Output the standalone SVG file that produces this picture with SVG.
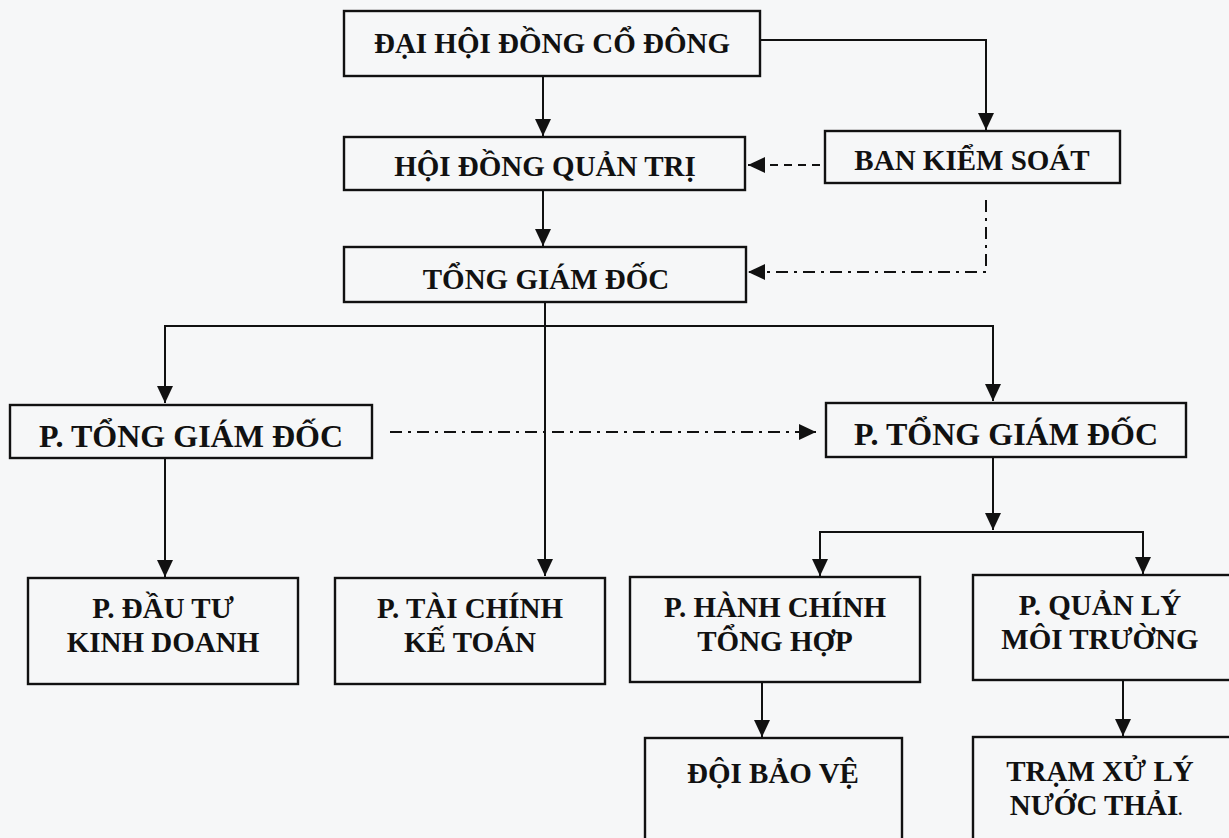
<svg xmlns="http://www.w3.org/2000/svg" width="1229" height="838" viewBox="0 0 1229 838">
<style>
.box{fill:none;stroke:#111;stroke-width:2.4}
.t{font-family:"Liberation Serif","Times New Roman",serif;font-weight:bold;font-size:29px;fill:#111;text-anchor:middle}
.tb{font-size:32px}
.c{fill:none;stroke:#111;stroke-width:2}
.dash{stroke-dasharray:8 6}
.dd{stroke-dasharray:12 6 3 6}
</style>
<defs>
<marker id="ah" markerUnits="userSpaceOnUse" markerWidth="18" markerHeight="16" refX="17" refY="8" orient="auto">
<path d="M0,0 L17,8 L0,16 Z" fill="#111"/>
</marker>
</defs>
<rect x="0" y="0" width="1229" height="838" fill="#f6f7f8"/>
<g id="connectors">
<path class="c" d="M543,76 V136" marker-end="url(#ah)"/>
<path class="c" d="M760,40 H986 V130" marker-end="url(#ah)"/>
<path class="c dash" d="M820,165 H748" marker-end="url(#ah)"/>
<path class="c dd" d="M986,200 V272 H748" marker-end="url(#ah)"/>
<path class="c" d="M543,190 V246" marker-end="url(#ah)"/>
<path class="c" d="M545,302 V576" marker-end="url(#ah)"/>
<path class="c" d="M165,403 V326 H993 V401" marker-end="url(#ah)"/>
<path class="c" d="M165,326 V403" marker-end="url(#ah)"/>
<path class="c dd" d="M390,432 H816" marker-end="url(#ah)"/>
<path class="c" d="M165,458 V577" marker-end="url(#ah)"/>
<path class="c" d="M993,457 V530" marker-end="url(#ah)"/>
<path class="c" d="M820,576 V532 H1143 V574" marker-end="url(#ah)"/>
<path class="c" d="M820,532 V576" marker-end="url(#ah)"/>
<path class="c" d="M762,682 V737" marker-end="url(#ah)"/>
<path class="c" d="M1123,680 V736" marker-end="url(#ah)"/>
</g>
<g id="n-dhdcd"><rect class="box" x="344" y="11" width="416" height="65"/><text class="t" x="552" y="53">ĐẠI HỘI ĐỒNG CỔ ĐÔNG</text></g>
<g id="n-hdqt"><rect class="box" x="344" y="137" width="401" height="53"/><text class="t" x="545" y="176">HỘI ĐỒNG QUẢN TRỊ</text></g>
<g id="n-bks"><rect class="box" x="825" y="131" width="295" height="52"/><text class="t" x="972" y="170">BAN KIỂM SOÁT</text></g>
<g id="n-tgd"><rect class="box" x="344" y="247" width="402" height="55"/><text class="t" x="546" y="289">TỔNG GIÁM ĐỐC</text></g>
<g id="n-ptgd1"><rect class="box" x="10" y="405" width="362" height="53"/><text class="t tb" x="191" y="447">P. TỔNG GIÁM ĐỐC</text></g>
<g id="n-ptgd2"><rect class="box" x="826" y="403" width="360" height="54"/><text class="t tb" x="1006" y="445">P. TỔNG GIÁM ĐỐC</text></g>
<g id="n-dtkd"><rect class="box" x="28" y="578" width="270" height="106"/><text class="t" x="163" y="618">P. ĐẦU TƯ</text><text class="t" x="163" y="652">KINH DOANH</text></g>
<g id="n-tckt"><rect class="box" x="335" y="578" width="270" height="106"/><text class="t" x="470" y="618">P. TÀI CHÍNH</text><text class="t" x="470" y="652">KẾ TOÁN</text></g>
<g id="n-hcth"><rect class="box" x="630" y="577" width="290" height="105"/><text class="t" x="775" y="617">P. HÀNH CHÍNH</text><text class="t" x="775" y="651">TỔNG HỢP</text></g>
<g id="n-qlmt"><rect class="box" x="973" y="575" width="262" height="105"/><text class="t" x="1100" y="615">P. QUẢN LÝ</text><text class="t" x="1100" y="649">MÔI TRƯỜNG</text></g>
<g id="n-dbv"><rect class="box" x="645" y="738" width="257" height="110"/><text class="t" x="773" y="783">ĐỘI BẢO VỆ</text></g>
<g id="n-trxl"><rect class="box" x="973" y="737" width="262" height="110"/><text class="t" x="1100" y="781">TRẠM XỬ LÝ</text><text class="t" x="1096" y="815">NƯỚC THẢI<tspan font-size="16">.</tspan></text></g>
</svg>
